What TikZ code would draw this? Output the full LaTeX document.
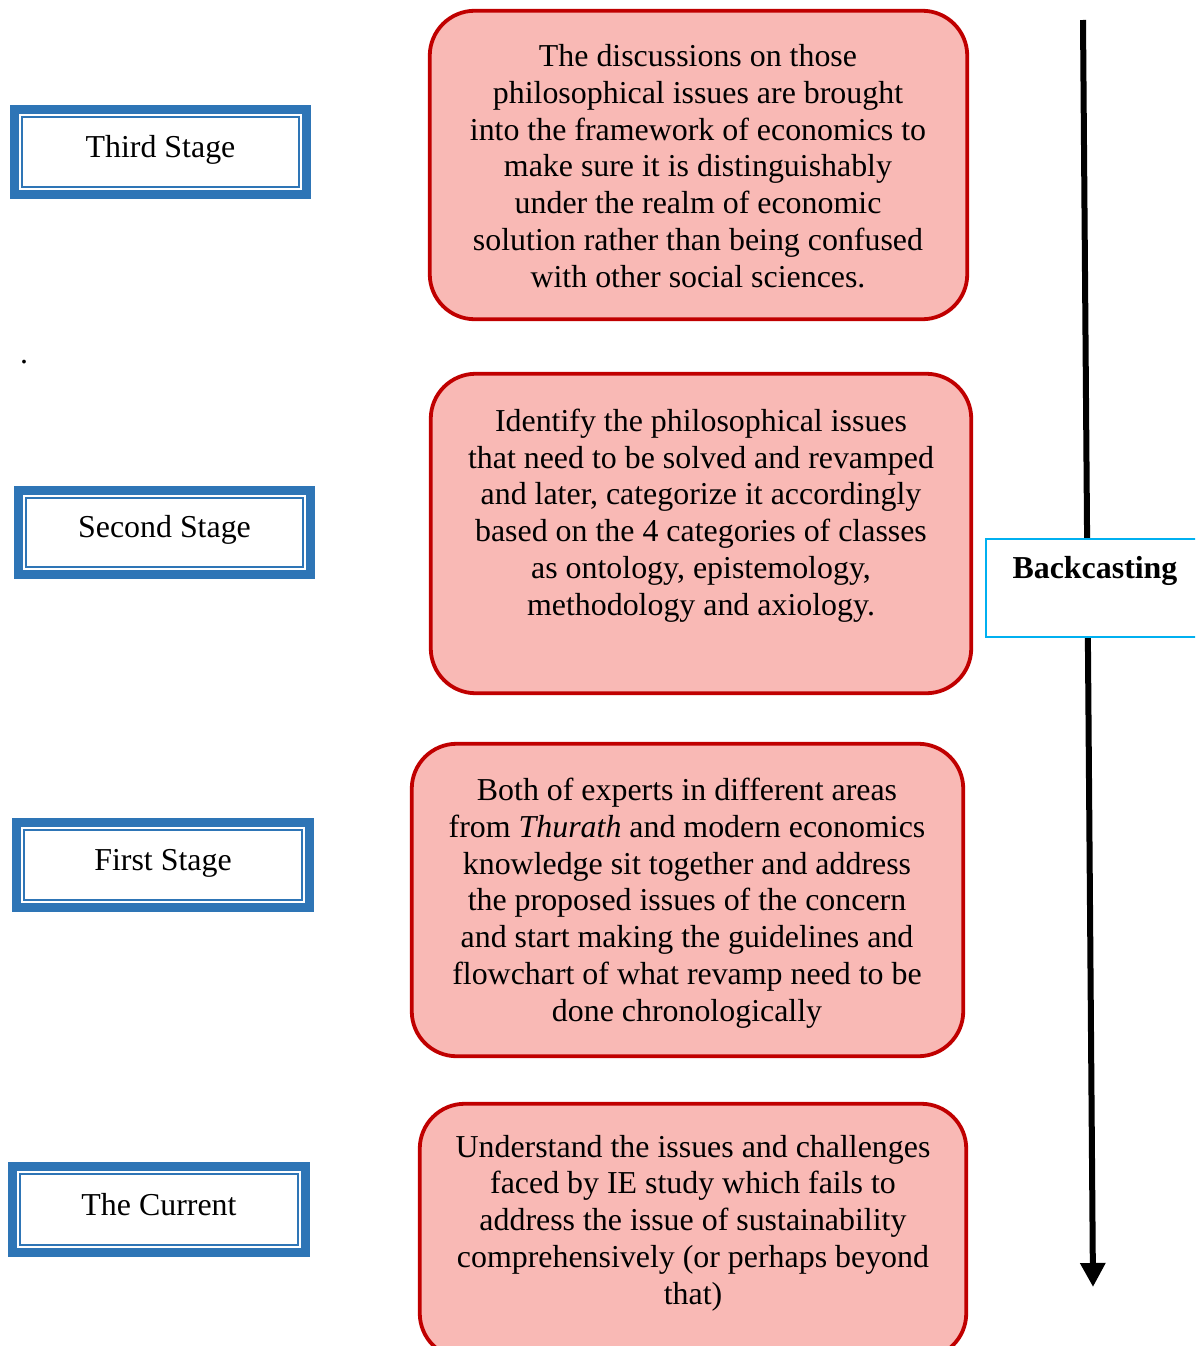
\documentclass[tikz,border=0pt]{standalone}
\usepackage{fontspec}
\setmainfont{Liberation Serif}
\usetikzlibrary{arrows.meta}
\definecolor{stageblue}{HTML}{2E75B6}
\definecolor{boxred}{HTML}{C00000}
\definecolor{boxfill}{HTML}{F9B9B5}
\definecolor{bcblue}{HTML}{00B0F0}
\begin{document}
\begin{tikzpicture}[x=1pt,y=-1pt,
  every node/.style={font=\fontsize{31.9}{36.8}\selectfont, inner sep=0pt, outer sep=0pt},
  stagebox/.style={draw=stageblue, line width=9pt, fill=white, rectangle},
  stageinner/.style={draw=stageblue, line width=2pt},
  redbox/.style={draw=boxred, line width=3.8pt, fill=boxfill, rounded corners=45pt, rectangle},
  boxtext/.style={align=center},
  bcbox/.style={draw=bcblue, line width=1.5pt, fill=white, rectangle},
  bigarrow/.style={line width=6pt, -{Triangle[width=24pt,length=24pt]}}
]
\useasboundingbox (0,0) rectangle (1195,1346);
\clip (0,0) rectangle (1195,1346);
\fill[white] (0,0) rectangle (1195,1346);

% stage boxes
\node[stagebox, minimum width=292pt, minimum height=85pt] (s3) at (160.5,152) {};
\node (s3t) at (160.5,150) {Third Stage};
\node[stagebox, minimum width=292pt, minimum height=84pt] (s2) at (164.5,532.5) {};
\node (s2t) at (164.5,530) {Second Stage};
\node[stagebox, minimum width=293pt, minimum height=85pt] (s1) at (163,865) {};
\node (s1t) at (163,863) {First Stage};
\node[stagebox, minimum width=293pt, minimum height=86pt] (s0) at (159,1209.5) {};
\node (s0t) at (159,1205) {The Current};
\foreach \s in {s3,s2,s1,s0}{
  \draw[stageinner] ([shift={(7.5,7.5)}]\s.north west) rectangle ([shift={(-7.5,-7.5)}]\s.south east);
}

\node (dot) at (24,362) {.};

% red boxes
\node[redbox, minimum width=537.5pt, minimum height=308.5pt] (r1) at (698.5,165) {};
\node[boxtext] (t1) at (698,166) {The discussions on those\\philosophical issues are brought\\into the framework of economics to\\make sure it is distinguishably\\under the realm of economic\\solution rather than being confused\\with other social sciences.};

\node[redbox, minimum width=540.5pt, minimum height=319.5pt] (r2) at (701,533.5) {};
\node[boxtext] (t2) at (701,515.5) {Identify the philosophical issues\\that need to be solved and revamped\\and later, categorize it accordingly\\based on the 4 categories of classes\\as ontology, epistemology,\\methodology and axiology.};

\node[redbox, minimum width=551.5pt, minimum height=312.5pt] (r3) at (687.5,900) {};
\node[boxtext] (t3) at (687,903) {Both of experts in different areas\\from \textit{Thurath} and modern economics\\knowledge sit together and address\\the proposed issues of the concern\\and start making the guidelines and\\flowchart of what revamp need to be\\done chronologically};

\node[redbox, minimum width=546.5pt, minimum height=254.5pt] (r4) at (693,1231) {};
\node[boxtext] (t4) at (693,1223) {Understand the issues and challenges\\faced by IE study which fails to\\address the issue of sustainability\\comprehensively (or perhaps beyond\\that)};

% backcasting arrow
\coordinate (atop) at (1083,20);
\coordinate (abot) at (1093,1287);
\draw[bigarrow] (atop) -- (abot);

\node[bcbox, minimum width=230pt, minimum height=98pt] (bc) at (1101,588) {};
\node[font=\fontsize{31.9}{36.8}\selectfont\bfseries] (bct) at (1095,571) {Backcasting};
\end{tikzpicture}
\end{document}
